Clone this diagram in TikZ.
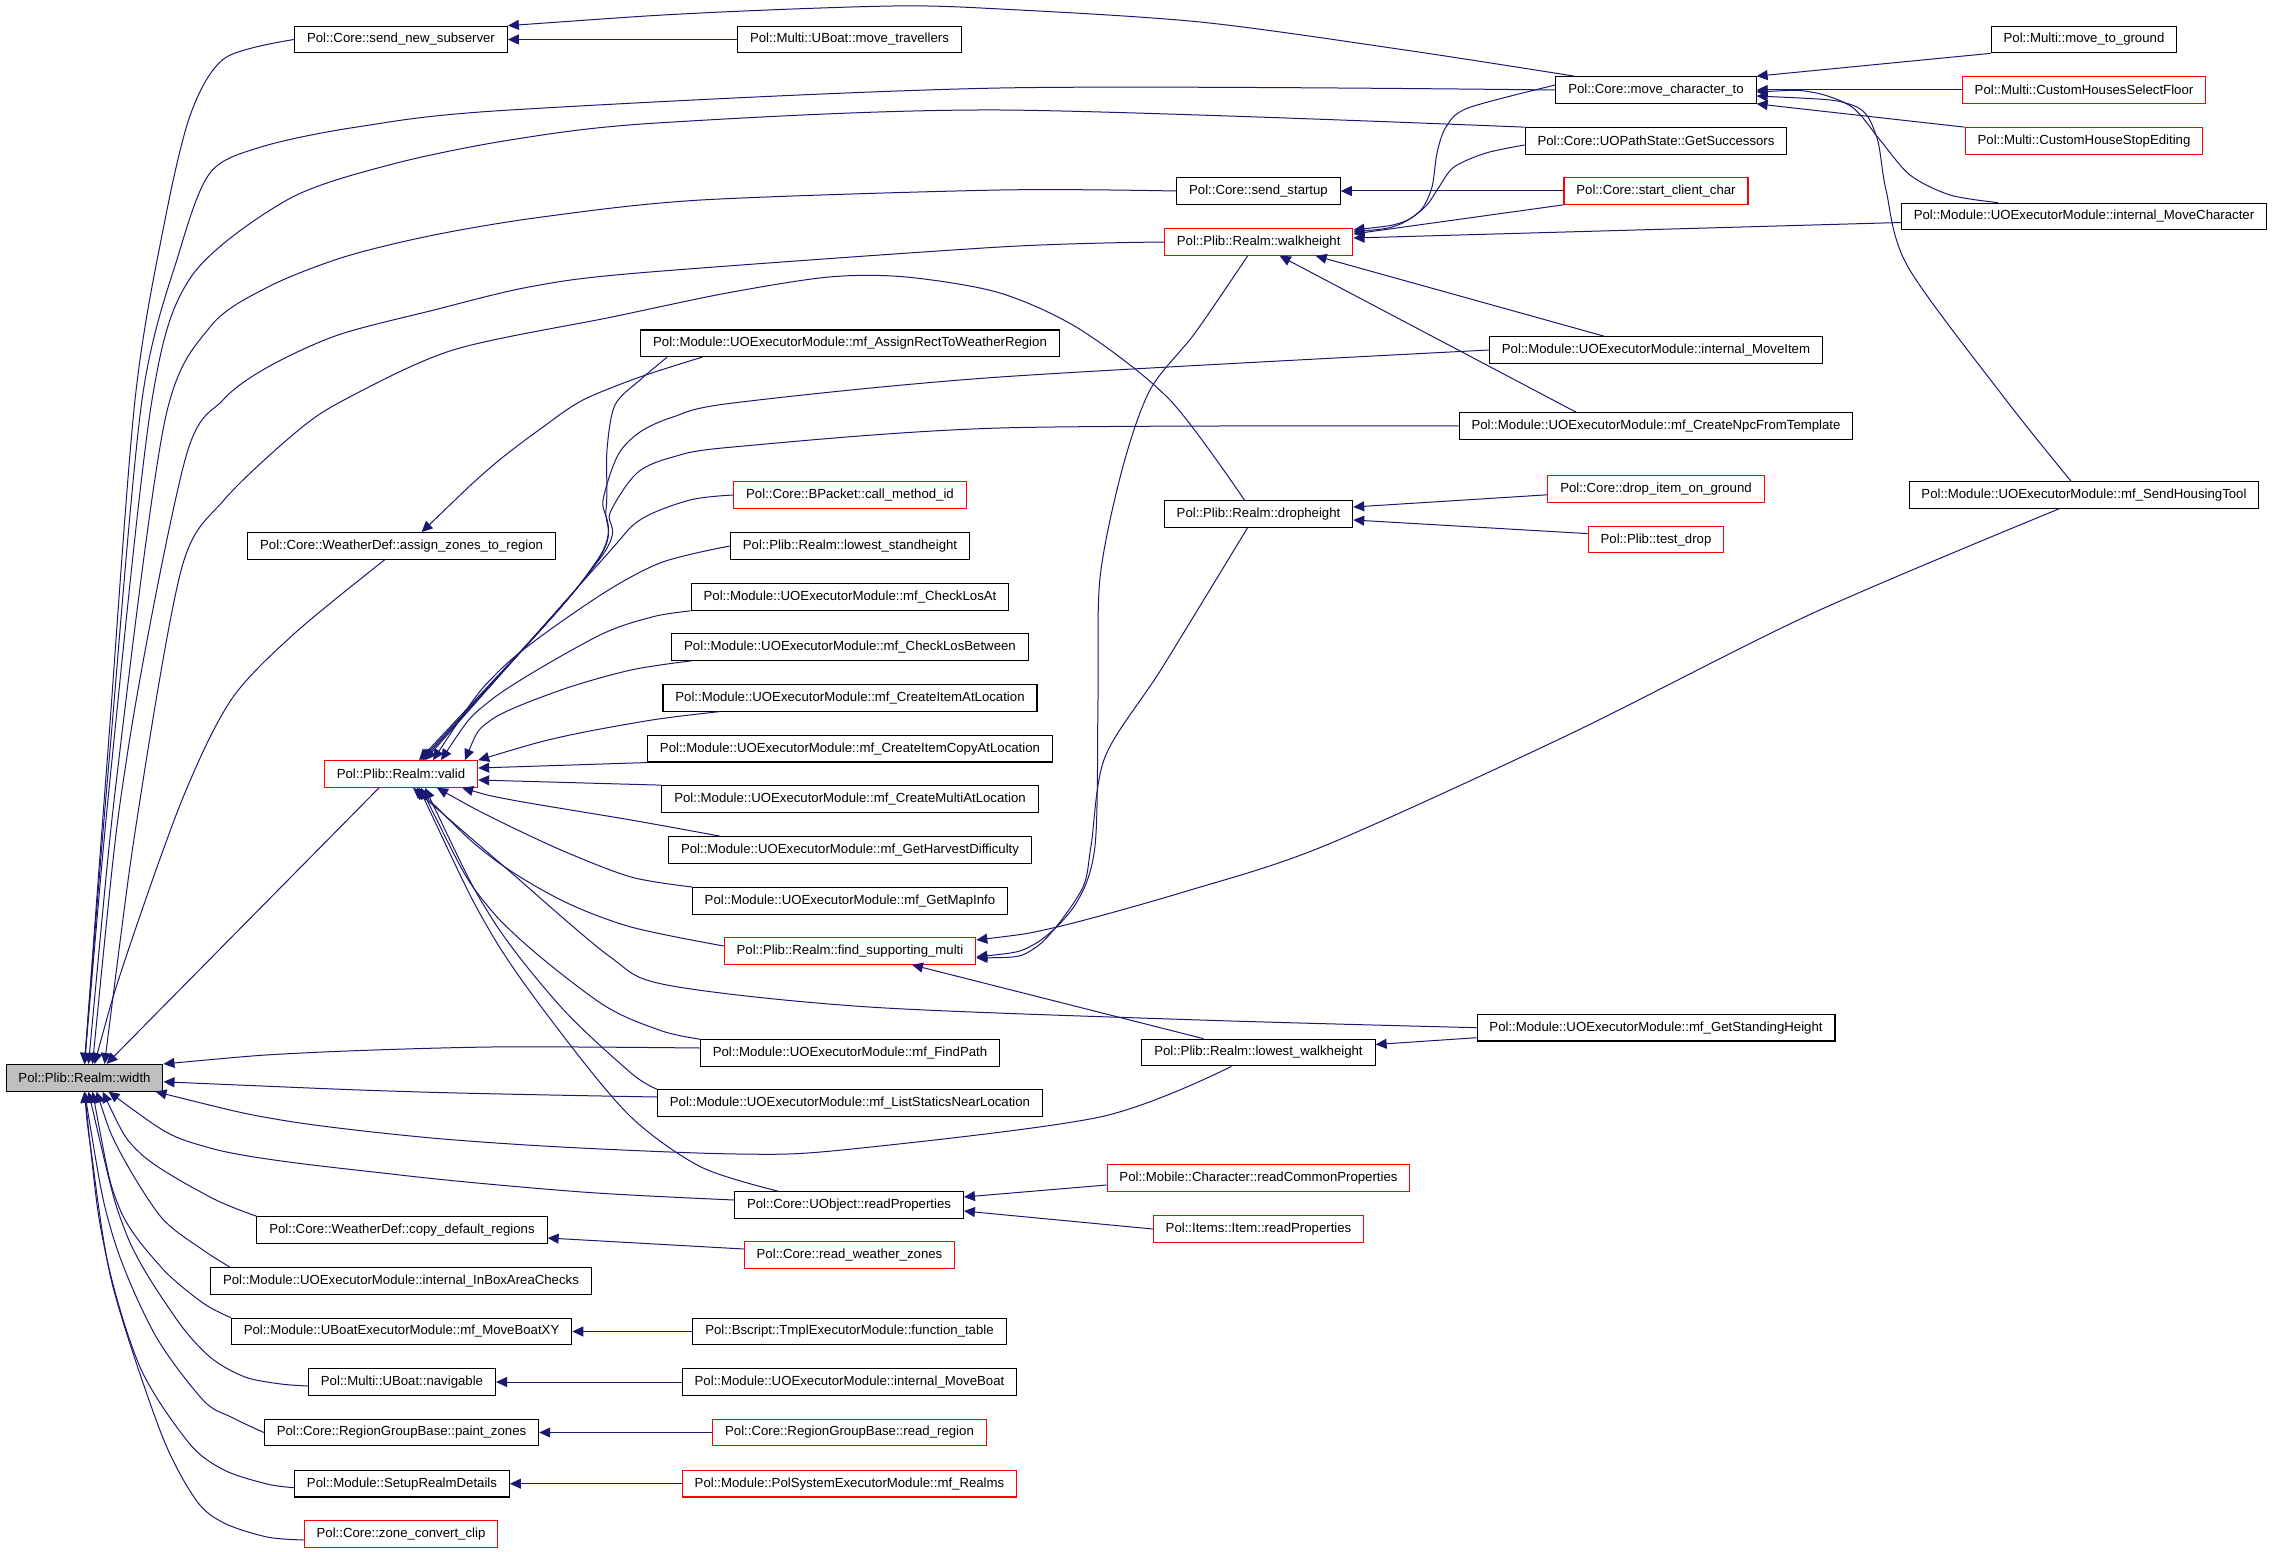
\documentclass[tikz,border=0pt]{standalone}
\usepackage{fontspec}
\setmainfont{Liberation Sans}
\usetikzlibrary{arrows.meta}
\definecolor{edgeblue}{RGB}{25,25,112}
\definecolor{boxgray}{RGB}{191,191,191}

\begin{document}
\begin{tikzpicture}[x=0.5pt, y=-0.5pt,
    fn/.style={draw=black, line width=0.55pt, rectangle, inner xsep=6.2pt, inner ysep=0pt,
      minimum height=13.3pt, font=\fontsize{6.6}{7}\selectfont},
    fnred/.style={fn, draw=red},
    call/.style={<-, >={Triangle[length=5.5pt,width=5pt]}, draw=edgeblue, line width=0.5pt}]
        \useasboundingbox (0,0) rectangle (2272,1552);
        % functions
        \node[fn, fill=boxgray] (width) at (84.5,1077.8) {Pol::Plib::Realm::width};
        \node[fn] (sendnewsub) at (401,39.5) {Pol::Core::send\_new\_subserver};
        \node[fn] (assignzones) at (401.6,546) {Pol::Core::WeatherDef::assign\_zones\_to\_region};
        \node[fnred] (valid) at (401,774) {Pol::Plib::Realm::valid};
        \node[fn] (copydefault) at (402,1230) {Pol::Core::WeatherDef::copy\_default\_regions};
        \node[fn] (inboxarea) at (401,1281) {Pol::Module::UOExecutorModule::internal\_InBoxAreaChecks};
        \node[fn] (moveboatxy) at (401.6,1331.5) {Pol::Module::UBoatExecutorModule::mf\_MoveBoatXY};
        \node[fn] (navigable) at (402,1382) {Pol::Multi::UBoat::navigable};
        \node[fn] (paintzones) at (401.5,1432.5) {Pol::Core::RegionGroupBase::paint\_zones};
        \node[fn] (setuprealm) at (402,1483.7) {Pol::Module::SetupRealmDetails};
        \node[fnred] (zoneclip) at (401,1534) {Pol::Core::zone\_convert\_clip};
        \node[fn] (movetravellers) at (849.5,39.5) {Pol::Multi::UBoat::move\_travellers};
        \node[fn] (assignrect) at (850,343.3) {Pol::Module::UOExecutorModule::mf\_AssignRectToWeatherRegion};
        \node[fnred] (callmethod) at (850,495) {Pol::Core::BPacket::call\_method\_id};
        \node[fn] (loweststand) at (850,546) {Pol::Plib::Realm::lowest\_standheight};
        \node[fn] (checklosat) at (850,597) {Pol::Module::UOExecutorModule::mf\_CheckLosAt};
        \node[fn] (checklosbetween) at (850,647) {Pol::Module::UOExecutorModule::mf\_CheckLosBetween};
        \node[fn] (createitemat) at (850,697.8) {Pol::Module::UOExecutorModule::mf\_CreateItemAtLocation};
        \node[fn] (createitemcopy) at (850,748.7) {Pol::Module::UOExecutorModule::mf\_CreateItemCopyAtLocation};
        \node[fn] (createmulti) at (850,799) {Pol::Module::UOExecutorModule::mf\_CreateMultiAtLocation};
        \node[fn] (harvest) at (850,850) {Pol::Module::UOExecutorModule::mf\_GetHarvestDifficulty};
        \node[fn] (mapinfo) at (850,900.8) {Pol::Module::UOExecutorModule::mf\_GetMapInfo};
        \node[fnred] (findmulti) at (850,951) {Pol::Plib::Realm::find\_supporting\_multi};
        \node[fn] (findpath) at (850,1053) {Pol::Module::UOExecutorModule::mf\_FindPath};
        \node[fn] (liststatics) at (850,1103) {Pol::Module::UOExecutorModule::mf\_ListStaticsNearLocation};
        \node[fn] (readprops) at (849,1205) {Pol::Core::UObject::readProperties};
        \node[fnred] (readweather) at (849.5,1255) {Pol::Core::read\_weather\_zones};
        \node[fn] (functable) at (849.5,1331.5) {Pol::Bscript::TmplExecutorModule::function\_table};
        \node[fn] (moveboat) at (849.5,1382) {Pol::Module::UOExecutorModule::internal\_MoveBoat};
        \node[fnred] (readregion) at (849.5,1432.5) {Pol::Core::RegionGroupBase::read\_region};
        \node[fnred] (realms) at (849.5,1483.7) {Pol::Module::PolSystemExecutorModule::mf\_Realms};
        \node[fn] (sendstartup) at (1258.5,191) {Pol::Core::send\_startup};
        \node[fnred] (walkheight) at (1258.7,242) {Pol::Plib::Realm::walkheight};
        \node[fn] (dropheight) at (1258.5,514) {Pol::Plib::Realm::dropheight};
        \node[fn] (lowestwalk) at (1258.5,1052.5) {Pol::Plib::Realm::lowest\_walkheight};
        \node[fnred] (readcommon) at (1258.5,1178) {Pol::Mobile::Character::readCommonProperties};
        \node[fnred] (itemread) at (1258.5,1229) {Pol::Items::Item::readProperties};
        \node[fn] (movechar) at (1656,90) {Pol::Core::move\_character\_to};
        \node[fn] (getsucc) at (1656,141) {Pol::Core::UOPathState::GetSuccessors};
        \node[fnred] (startclient) at (1656,191) {Pol::Core::start\_client\_char};
        \node[fn] (moveitem) at (1656,350) {Pol::Module::UOExecutorModule::internal\_MoveItem};
        \node[fn] (createnpc) at (1656,426) {Pol::Module::UOExecutorModule::mf\_CreateNpcFromTemplate};
        \node[fnred] (dropitem) at (1656,488.8) {Pol::Core::drop\_item\_on\_ground};
        \node[fnred] (testdrop) at (1656,539.6) {Pol::Plib::test\_drop};
        \node[fn] (standing) at (1656,1027.7) {Pol::Module::UOExecutorModule::mf\_GetStandingHeight};
        \node[fn] (movetoground) at (2084,39.5) {Pol::Multi::move\_to\_ground};
        \node[fnred] (selectfloor) at (2084,90) {Pol::Multi::CustomHousesSelectFloor};
        \node[fnred] (stopediting) at (2084,141) {Pol::Multi::CustomHouseStopEditing};
        \node[fn] (movecharacter) at (2084,216.5) {Pol::Module::UOExecutorModule::internal\_MoveCharacter};
        \node[fn] (sendhousing) at (2084,495) {Pol::Module::UOExecutorModule::mf\_SendHousingTool};

        % callers of width
        \draw[call] plot[smooth] coordinates {(width.north) (108,750) (135,400) (165,220) (191,113) (225,58) (sendnewsub.west)};
        \draw[call] plot[smooth] coordinates {(width.north) (110,750) (142,400) (179,253) (210,173) (261,147) (357,127) (510,110) (1000,88) (movechar.west)};
        \draw[call] plot[smooth] coordinates {(width.north) (113,750) (152,400) (191,277) (287,200) (389,165) (510,140) (657,123) (1000,110) (getsucc.north west)};
        \draw[call] plot[smooth] coordinates {([xshift=2pt]width.north) (120,750) (165,420) (210,327) (268,287) (344,257) (434,235) (542,217) (701,200) (1000,190) (sendstartup.west)};
        \draw[call] plot[smooth] coordinates {([xshift=4pt]width.north) (128,750) (185,460) (223,400) (268,367) (338,335) (434,310) (529,287) (638,273) (1000,247) (walkheight.west)};
        \draw[call] plot[smooth] coordinates {([xshift=10pt]width.north) (140,800) (182,567) (224,500) (295,433) (344,400) (453,350) (612,317) (727,293) (829,277) (906,277) (1000,293) (1081,330) (1170,400) ([xshift=-7pt]dropheight.north)};
        \draw[call] plot[smooth] coordinates {([xshift=5pt]width.north) (125,960) (182,800) (231,700) (295,633) ([xshift=-8.5pt]assignzones.south)};
        \draw[call] ([xshift=11pt]width.north) -- ([xshift=-11pt]valid.south);
        \draw[call] plot[smooth] coordinates {(width.north east) (302,1053) (491,1047) ([yshift=2.5pt]findpath.west)};
        \draw[call] plot[smooth] coordinates {([yshift=-2pt]width.east) (421,1092) ([yshift=3pt]liststatics.west)};
        \draw[call] plot[smooth] coordinates {([xshift=-4pt]width.south east) (281,1120) (421,1137) (561,1147) (737,1154) (842,1150) (1100,1117) ([xshift=-13.5pt]lowestwalk.south)};
        \draw[call] plot[smooth] coordinates {([xshift=12pt]width.south) (210,1148) (400,1175) (582,1192) ([yshift=2.5pt]readprops.west)};
        \draw[call] plot[smooth] coordinates {([xshift=9pt]width.south) (140,1153) (210,1197) (copydefault.north west)};
        \draw[call] plot[smooth] coordinates {([xshift=6pt]width.south) (119,1150) (161,1217) (203,1250) ([xshift=10pt]inboxarea.north west)};
        \draw[call] plot[smooth] coordinates {([xshift=4pt]width.south) (119,1207) (161,1267) (203,1303) (moveboatxy.north west)};
        \draw[call] plot[smooth] coordinates {([xshift=2pt]width.south) (126,1233) (175,1317) (210,1357) (245,1377) (281,1384) ([yshift=-2pt]navigable.west)};
        \draw[call] plot[smooth] coordinates {(width.south) (112,1233) (154,1333) (203,1400) (231,1417) (paintzones.west)};
        \draw[call] plot[smooth] coordinates {(width.south) (105,1250) (140,1367) (189,1443) (224,1470) (267,1484) ([yshift=-2pt]setuprealm.west)};
        \draw[call] plot[smooth] coordinates {(width.south) (91,1150) (112,1283) (161,1433) (196,1500) (224,1523) (267,1537) ([yshift=-3pt]zoneclip.west)};

        % callers of valid
        \draw[call] plot[smooth] coordinates {([xshift=9pt]valid.north) (593,567) (606,510) (607,450) (615,405) (640,380) ([xshift=13.5pt]assignrect.south west)};
        \draw[call] plot[smooth] coordinates {([xshift=10pt]valid.north) (596,562) (603,500) (618,455) (640,432) (673,417) (733,403) (1000,377) (moveitem.west)};
        \draw[call] plot[smooth] coordinates {([xshift=11pt]valid.north) (599,560) (610,513) (637,473) (673,457) (733,447) (1000,428) (createnpc.west)};
        \draw[call] plot[smooth] coordinates {([xshift=12pt]valid.north) (602,560) (640,520) (690,500) (callmethod.west)};
        \draw[call] plot[smooth] coordinates {([xshift=16pt]valid.north) (500,670) (593,600) (660,563) (loweststand.west)};
        \draw[call] plot[smooth] coordinates {([xshift=20pt]valid.north) (491,700) (596,637) (652,617) (checklosat.south west)};
        \draw[call] plot[smooth] coordinates {([xshift=32pt]valid.north) (491,720) (561,690) (631,670) ([xshift=10pt]checklosbetween.south west)};
        \draw[call] plot[smooth] coordinates {(valid.north east) (561,737) (652,720) ([xshift=28.5pt]createitemat.south west)};
        \draw[call] ([yshift=3pt]valid.east) -- (createitemcopy.south west);
        \draw[call] ([yshift=-3pt]valid.east) -- (createmulti.north west);
        \draw[call] plot[smooth] coordinates {([xshift=-8pt]valid.south east) (512,800) (631,820) ([xshift=26pt]harvest.north west)};
        \draw[call] plot[smooth] coordinates {([xshift=18pt]valid.south) (491,817) (561,850) (631,877) (mapinfo.north west)};
        \draw[call] plot[smooth] coordinates {([xshift=8pt]valid.south) (491,857) (561,900) (631,927) ([yshift=2.5pt]findmulti.west)};
        \draw[call] plot[smooth] coordinates {([xshift=6pt]valid.south) (507,869) (609,956) (667,985) (869,1007) (1200,1020) (standing.west)};
        \draw[call] plot[smooth] coordinates {([xshift=10pt]valid.south) (491,910) (596,1000) (659,1030) (findpath.north west)};
        \draw[call] plot[smooth] coordinates {([xshift=12pt]valid.south) (491,917) (561,1007) (631,1073) (liststatics.north west)};
        \draw[call] plot[smooth] coordinates {([xshift=9pt]valid.south) (491,933) (561,1033) (631,1117) (701,1167) ([xshift=22pt]readprops.north west)};

        % other calls
        \draw[call] plot[smooth] coordinates {([xshift=10pt]assignzones.north) (491,467) (543,427) (583,400) (640,377) ([xshift=31pt]assignrect.south west)};
        \draw[call] (sendnewsub.east) -- (movetravellers.west);
        \draw[call] plot[smooth] coordinates {(sendnewsub.north east) (701,13) (893,6) (1000,9) (1200,22) (1405,50) ([xshift=9.5pt]movechar.north west)};
        \draw[call] (sendstartup.east) -- (startclient.west);
        \draw[call] (moveboatxy.east) -- (functable.west);
        \draw[call] (navigable.east) -- (moveboat.west);
        \draw[call] (paintzones.east) -- (readregion.west);
        \draw[call] (setuprealm.east) -- (realms.west);
        \draw[call] ([yshift=-4pt]copydefault.east) -- ([yshift=3pt]readweather.west);
        \draw[call] ([yshift=4pt]readprops.east) -- ([yshift=-3.5pt]readcommon.west);
        \draw[call] ([yshift=-3pt]readprops.east) -- (itemread.west);
        \draw[call] (movechar.north east) -- (movetoground.south west);
        \draw[call] (movechar.east) -- (selectfloor.west);
        \draw[call] (movechar.south east) -- (stopediting.north west);
        \draw[call] plot[smooth] coordinates {([yshift=-1pt]movechar.east) (1811,92) (1852,107) (1880,140) (1910,175) (1950,195) ([xshift=-43pt]movecharacter.north)};
        \draw[call] plot[smooth] coordinates {([yshift=-3pt]movechar.east) (1852,105) (1876,135) (1886,190) (1908,267) (2006,400) ([xshift=-6.5pt]sendhousing.north)};
        \draw[call] plot[smooth] coordinates {([yshift=6pt]walkheight.east) (1400,223) (1421,210) (1432,187) (1437,153) (1446,127) (1468,108) ([yshift=2.5pt]movechar.west)};
        \draw[call] plot[smooth] coordinates {([yshift=5pt]walkheight.east) (1398,225) (1425,207) (1439,187) (1454,167) (1486,153) ([yshift=-2pt]getsucc.west)};
        \draw[call] ([yshift=4pt]walkheight.east) -- (startclient.south west);
        \draw[call] ([yshift=2pt]walkheight.east) -- ([yshift=-3pt]movecharacter.west);
        \draw[call] ([xshift=28.5pt]walkheight.south) -- ([xshift=-26pt]moveitem.north);
        \draw[call] ([xshift=10.5pt]walkheight.south) -- ([xshift=-40pt]createnpc.north);
        \draw[call] ([yshift=3.5pt]dropheight.east) -- ([yshift=-3pt]dropitem.west);
        \draw[call] ([yshift=-3pt]dropheight.east) -- ([yshift=3pt]testdrop.west);
        \draw[call] plot[smooth] coordinates {([yshift=5.5pt]findmulti.east) (1057,927) (1187,891) (1324,846) (1568,735) (1811,614) ([xshift=-12.5pt]sendhousing.south)};
        \draw[call] plot[smooth] coordinates {([yshift=-3pt]findmulti.east) (1033,945) (1075,905) (1095,846) (1098,700) (1100,578) (1122,470) (1150,390) (1195,333) ([xshift=-5.5pt]walkheight.south)};
        \draw[call] plot[smooth] coordinates {([yshift=-3.5pt]findmulti.east) (1035,948) (1081,891) (1091,846) (1105,757) (1162,668) ([xshift=-5.5pt]dropheight.south)};
        \draw[call] ([xshift=31pt]findmulti.south) -- ([xshift=-27.5pt]lowestwalk.north);
        \draw[call] ([yshift=4pt]lowestwalk.east) -- ([yshift=-5pt]standing.west);
      \end{tikzpicture}
\end{document}
